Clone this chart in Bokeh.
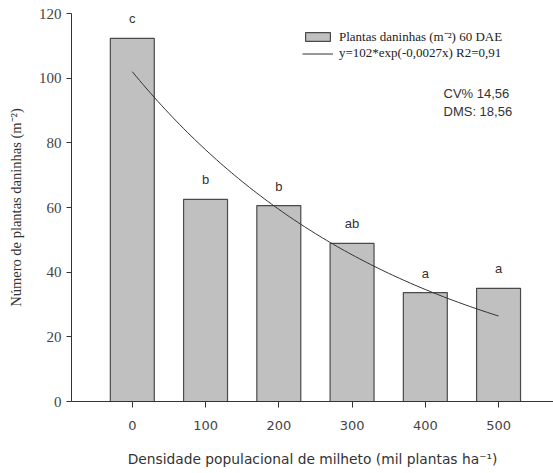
from bokeh.plotting import figure
from bokeh.models import ColumnDataSource, Legend, LegendItem, Label, FixedTicker
from bokeh.core.properties import value
from bokeh.embed import file_html
from bokeh.resources import INLINE
import numpy as np

# Millet population density (thousand plants per ha) and weed density at 60 DAE
densidade = [0, 100, 200, 300, 400, 500]
plantas_daninhas = [112.3, 62.5, 60.6, 48.9, 33.7, 35.0]
letras = ["c", "b", "b", "ab", "a", "a"]

# Fitted model y = 102*exp(-0.0027x)
coef_a = 102
coef_b = -0.0027

y_ticks = [0, 20, 40, 60, 80, 100, 120]

bars = ColumnDataSource(dict(x=densidade, top=plantas_daninhas, letra=letras))

x_fit = np.linspace(0, 500, 101)
y_fit = coef_a * np.exp(coef_b * x_fit)

p = figure(width=553, height=473, output_backend="svg", toolbar_location=None,
           x_range=(-83, 575), y_range=(0, 120),
           min_border_left=71, min_border_right=0, min_border_top=13, min_border_bottom=72)
p.outline_line_color = None
p.grid.grid_line_color = None
p.background_fill_color = "white"

r_bar = p.vbar(x="x", top="top", width=60, bottom=0, source=bars,
               fill_color="#c0c0c0", line_color="#4a4a4a", line_width=1.2)
r_line = p.line(x_fit, y_fit, line_color="#333333", line_width=1)

p.text(x="x", y="top", text="letra", source=bars, y_offset=-12,
       text_align="center", text_baseline="bottom",
       text_font_size="13px", text_color="#333333",
       text_font=value("Liberation Sans"))

# axes
p.yaxis.ticker = FixedTicker(ticks=y_ticks)
p.yaxis.axis_label = "Número de plantas daninhas (m⁻²)"
p.yaxis.axis_label_text_font = "Liberation Serif"
p.yaxis.axis_label_text_font_style = "normal"
p.yaxis.axis_label_text_font_size = "14.5px"
p.yaxis.axis_label_text_color = "#333333"
p.yaxis.axis_label_standoff = 12
p.yaxis.major_label_text_font = "Liberation Serif"
p.yaxis.major_label_text_font_size = "15px"
p.yaxis.major_label_text_color = "#444444"
p.yaxis.minor_tick_line_color = None
p.yaxis.major_tick_out = 5
p.yaxis.major_tick_in = 0
p.yaxis.axis_line_color = "#333333"
p.yaxis.major_tick_line_color = "#333333"

p.xaxis.ticker = FixedTicker(ticks=densidade)
p.xaxis.axis_label = "Densidade populacional de milheto (mil plantas ha⁻¹)"
p.xaxis.axis_label_text_font = "DejaVu Sans"
p.xaxis.axis_label_text_font_style = "normal"
p.xaxis.axis_label_text_font_size = "13.8px"
p.xaxis.axis_label_text_color = "#333333"
p.xaxis.axis_label_standoff = 18
p.xaxis.major_label_text_font = "DejaVu Sans"
p.xaxis.major_label_text_font_size = "13px"
p.xaxis.major_label_text_color = "#444444"
p.xaxis.major_label_standoff = 13
p.xaxis.minor_tick_line_color = None
p.xaxis.major_tick_out = 6
p.xaxis.major_tick_in = 0
p.xaxis.axis_line_color = "#333333"
p.xaxis.major_tick_line_color = "#333333"

legend = Legend(items=[
    LegendItem(label="Plantas daninhas (m⁻²) 60 DAE", renderers=[r_bar]),
    LegendItem(label="y=102*exp(-0,0027x) R2=0,91", renderers=[r_line]),
], location=(231, 340), orientation="vertical")
legend.border_line_color = None
legend.background_fill_alpha = 0
legend.label_text_font = "Liberation Serif"
legend.label_text_font_size = "13px"
legend.label_text_color = "#222222"
legend.glyph_width = 31
legend.glyph_height = 11
legend.label_standoff = 6
legend.spacing = 0
legend.padding = 0
legend.margin = 0
legend.label_height = 15
p.add_layout(legend)

p.add_layout(Label(x=372, y=308, x_units="screen", y_units="screen",
                   text="CV% 14,56", text_font="Liberation Sans",
                   text_font_size="13px", text_color="#333333",
                   text_baseline="middle"))
p.add_layout(Label(x=372, y=290, x_units="screen", y_units="screen",
                   text="DMS: 18,56", text_font="Liberation Sans",
                   text_font_size="13px", text_color="#333333",
                   text_baseline="middle"))

open("out.html", "w").write(file_html(p, INLINE))
